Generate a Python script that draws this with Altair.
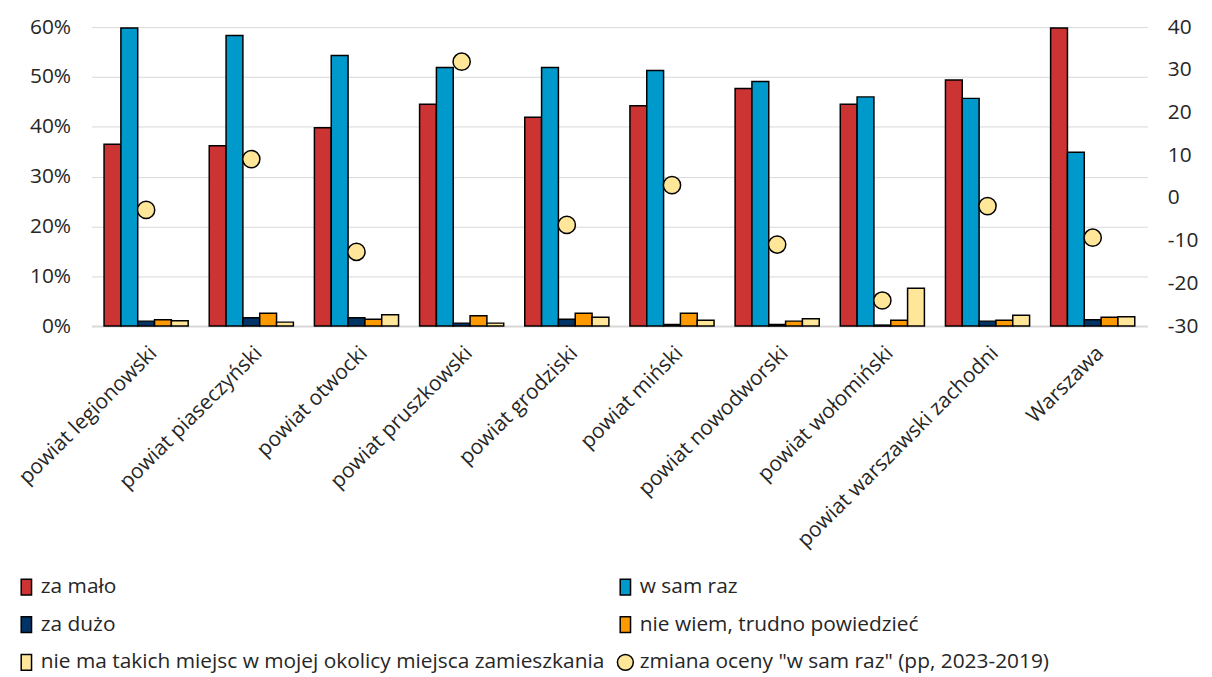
import altair as alt
import pandas as pd

categories = ["powiat legionowski", "powiat piaseczyński", "powiat otwocki", "powiat pruszkowski",
              "powiat grodziski", "powiat miński", "powiat nowodworski", "powiat wołomiński",
              "powiat warszawski zachodni", "Warszawa"]

series = ["za mało", "w sam raz", "za dużo", "nie wiem, trudno powiedzieć",
          "nie ma takich miejsc w mojej okolicy miejsca zamieszkania"]
dot_series = 'zmiana oceny "w sam raz" (pp, 2023-2019)'

za_malo = [36.5, 36.2, 39.8, 44.5, 41.9, 44.2, 47.7, 44.5, 49.4, 59.8]
w_sam_raz = [59.8, 58.3, 54.3, 51.9, 51.9, 51.3, 49.1, 46.0, 45.7, 34.9]
za_duzo = [1.0, 1.7, 1.7, 0.6, 1.4, 0.3, 0.3, 0.2, 1.0, 1.3]
nie_wiem = [1.3, 2.6, 1.4, 2.1, 2.6, 2.6, 1.0, 1.2, 1.2, 1.8]
nie_ma = [1.1, 0.8, 2.3, 0.6, 1.8, 1.2, 1.5, 7.6, 2.2, 1.9]
zmiana = [-2.8, 9.1, -12.6, 31.9, -6.3, 3.0, -10.9, -24.0, -1.9, -9.3]

colors = ["#CC3333", "#0099CC", "#003366", "#FF9900", "#FFE699", "#FFE699"]
rect_path = "M-0.65,-1H0.65V1H-0.65Z"

rows = []
for s, vals in zip(series, [za_malo, w_sam_raz, za_duzo, nie_wiem, nie_ma]):
    for c, v in zip(categories, vals):
        rows.append({"kat": c, "seria": s, "wartosc": v / 100})
bars_df = pd.DataFrame(rows)
dots_df = pd.DataFrame({"kat": categories, "seria": dot_series, "zmiana": zmiana})

all_series = series + [dot_series]
color_scale = alt.Scale(domain=all_series, range=colors)
shape_scale = alt.Scale(domain=all_series, range=[rect_path] * 5 + ["circle"])

FONT = "Open Sans"
FS = 21

x_enc = alt.X("kat:N", sort=categories, title=None,
              scale=alt.Scale(paddingInner=0.2, paddingOuter=0.12),
              axis=alt.Axis(labelAngle=-45, ticks=False, domainColor="#D9D9D9", domainWidth=2,
                            labelPadding=16, labelLimit=400))

bars = alt.Chart(bars_df).mark_bar(stroke="black", strokeWidth=1.5).encode(
    x=x_enc,
    xOffset=alt.XOffset("seria:N", sort=series, scale=alt.Scale(domain=series, paddingInner=0)),
    y=alt.Y("wartosc:Q", title=None,
            scale=alt.Scale(domain=[0, 0.6], nice=False),
            axis=alt.Axis(format=".0%", values=[0, 0.1, 0.2, 0.3, 0.4, 0.5, 0.6], ticks=False,
                          domain=False, grid=True, gridColor="#D9D9D9", labelPadding=21)),
    color=alt.Color("seria:N", scale=color_scale, sort=all_series,
                    legend=alt.Legend(title=None, orient="none", legendX=-76, legendY=553,
                                      direction="horizontal",
                                      columns=2, columnPadding=9, rowPadding=15,
                                      symbolSize=256, labelFontSize=FS, labelLimit=700,
                                      labelOffset=4,
                                      symbolStrokeColor="black", symbolStrokeWidth=1.5,
                                      padding=0)),
)

dots = alt.Chart(dots_df).mark_point(filled=True, stroke="black", strokeWidth=1.5, size=300,
                                     opacity=1).encode(
    x=alt.X("kat:N", sort=categories),
    y=alt.Y("zmiana:Q", title=None,
            scale=alt.Scale(domain=[-30, 40], nice=False),
            axis=alt.Axis(orient="right", values=list(range(-30, 41, 10)), ticks=False,
                          labelExpr="'' + datum.value",
                          domain=False, grid=False, labelPadding=20)),
    color=alt.Color("seria:N", scale=color_scale, sort=all_series),
    shape=alt.Shape("seria:N", scale=shape_scale, sort=all_series),
)

chart = alt.layer(bars, dots).resolve_scale(y="independent").properties(
    width=1063, height=301,
    autosize=alt.AutoSizeParams(type="none"),
    padding={"left": 84, "top": 17, "right": 57, "bottom": 352},
).configure_view(stroke=None).configure_axis(
    labelFont=FONT, labelFontSize=FS, labelColor="#262626"
).configure_legend(
    labelFont=FONT, labelColor="#262626"
)

chart.save("out.html", embed_options={"renderer": "svg", "actions": False})
